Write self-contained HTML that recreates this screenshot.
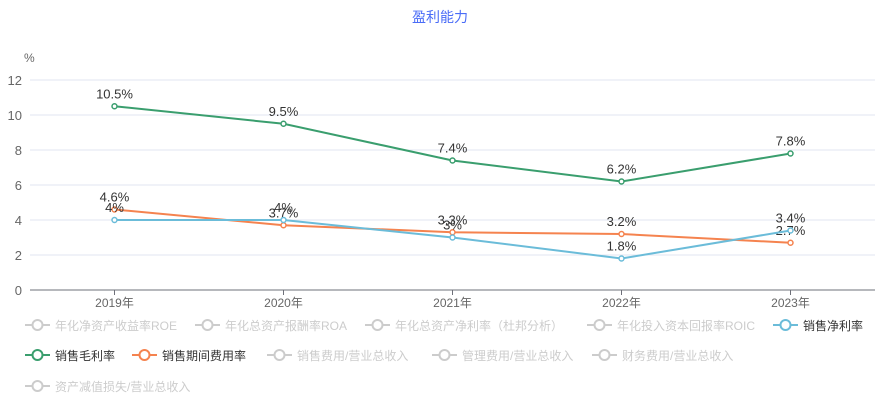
<!DOCTYPE html>
<html><head><meta charset="utf-8"><style>
body{margin:0;background:#fff;font-family:"Liberation Sans","Noto Sans CJK SC",sans-serif;}
#wrap{position:relative;width:880px;height:400px;overflow:hidden;}
.lg{position:absolute;font-size:12px;white-space:nowrap;display:flex;align-items:center;height:14px;}
.lg svg{margin-right:5px;}
</style></head><body>
<div id="wrap">
<svg id="chart" width="880" height="400" style="position:absolute;left:0;top:0"></svg>
</div>
<script>
const categories=["2019年","2020年","2021年","2022年","2023年"];
const grossMargin=[10.5,9.5,7.4,6.2,7.8];
const expenseRate=[4.6,3.7,3.3,3.2,2.7];
const netMargin=[4,4,3,1.8,3.4];
const yTicks=[0,2,4,6,8,10,12];
const legendItems=[
["年化净资产收益率ROE","#ccc",false],["年化总资产报酬率ROA","#ccc",false],["年化总资产净利率（杜邦分析）","#ccc",false],["年化投入资本回报率ROIC","#ccc",false],["销售净利率","#6bbcd9",true],
["销售毛利率","#3a9e6e",true],["销售期间费用率","#f5834f",true],["销售费用/营业总收入","#ccc",false],["管理费用/营业总收入","#ccc",false],["财务费用/营业总收入","#ccc",false],
["资产减值损失/营业总收入","#ccc",false]];
const legendPos=[[25,325],[195,325],[365,325],[587,325],[773,325],[25,355],[132,355],[267,355],[432,355],[592,355],[25,386]];
const NS="http://www.w3.org/2000/svg";
const svg=document.getElementById('chart');
const L=30,R=875,Y0=290,Y12=80;
const x=i=>L+(R-L)/categories.length*(i+0.5);
const y=v=>Y0-(Y0-Y12)*v/12;
function mk(t,a,p){const e=document.createElementNS(NS,t);for(const k in a)e.setAttribute(k,a[k]);(p||svg).appendChild(e);return e;}
let t=mk('text',{x:440,y:22,'text-anchor':'middle','font-size':14,fill:'#4a6cf7'});t.textContent='盈利能力';


t=mk('text',{x:24,y:62,'font-size':12,fill:'#666'});t.textContent='%';


yTicks.forEach(v=>{
 if(v>0){const g=mk('line',{x1:L,x2:R,y1:y(v),y2:y(v),stroke:'#e0e6f1'});
 
 }
 const tx=mk('text',{x:22,y:y(v)+5,'text-anchor':'end','font-size':13,fill:'#666'});tx.textContent=v;
 
 
});
const ax=mk('line',{x1:L,x2:R,y1:Y0,y2:Y0,stroke:'#6e7079'});


categories.forEach((c,i)=>{
 const tk=mk('line',{x1:x(i),x2:x(i),y1:Y0,y2:Y0+5,stroke:'#6e7079'});
 
 
 const tx=mk('text',{x:x(i),y:Y0+17,'text-anchor':'middle','font-size':12,fill:'#666'});tx.textContent=c;
 
 
});
function series(vals,color,name){
 const g=mk('g',{});
 
 
 mk('polyline',{points:vals.map((v,i)=>x(i)+','+y(v)).join(' '),fill:'none',stroke:color,'stroke-width':2},g);
 vals.forEach((v,i)=>{
  const c=mk('circle',{cx:x(i),cy:y(v),r:2.5,fill:'#fff',stroke:color,'stroke-width':1.5},g);
  
  
  const tx=mk('text',{x:x(i),y:y(v)-8,'text-anchor':'middle','font-size':13,fill:'#333'},g);tx.textContent=v+'%';
  
  
 });
}
series(grossMargin,'#3a9e6e','gross-margin-line');
series(expenseRate,'#f5834f','expense-rate-line');
series(netMargin,'#6bbcd9','net-margin-line');
const wrap=document.getElementById('wrap');
legendItems.forEach((it,i)=>{
 const d=document.createElement('div');d.className='lg';
 
 
 d.style.left=legendPos[i][0]+'px';d.style.top=(legendPos[i][1]-7)+'px';
 d.style.color=it[2]?'#333':'#ccc';
 d.innerHTML='<svg width="25" height="14"><line x1="0" y1="7" x2="25" y2="7" stroke="'+it[1]+'" stroke-width="2"/><circle cx="12.5" cy="7" r="5" fill="#fff" stroke="'+it[1]+'" stroke-width="2"/></svg><span>'+it[0]+'</span>';
 wrap.appendChild(d);
});
</script>
</body></html>
